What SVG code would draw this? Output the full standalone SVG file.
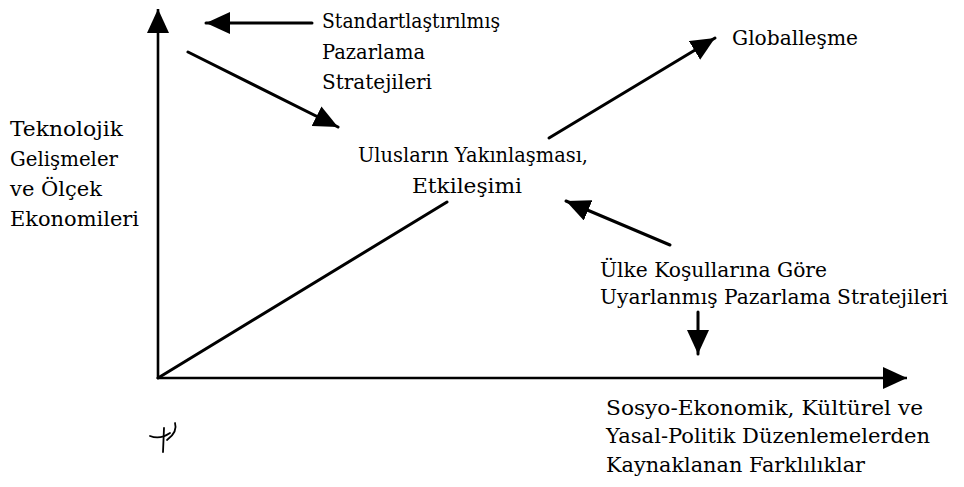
<svg xmlns="http://www.w3.org/2000/svg" width="964" height="487" viewBox="0 0 964 487">
  <style>
    text { font-family: 'DejaVu Serif', serif; font-size: 21px; fill: #000; }
    .ln { stroke: #000; stroke-width: 3; fill: none; stroke-linecap: round; }
    .ax { stroke: #000; stroke-width: 2.6; fill: none; }
  </style>
  <defs>
    <marker id="head" markerUnits="userSpaceOnUse" markerWidth="26" markerHeight="22" refX="24" refY="11" orient="auto">
      <path d="M0,0 L24,11 L0,22 Z" fill="#000"/>
    </marker>
  </defs>

  <!-- axes -->
  <g id="axes">
    <line class="ax" x1="158" y1="379" x2="158" y2="9" marker-end="url(#head)"/>
    <line class="ax" x1="157" y1="378" x2="907" y2="378" marker-end="url(#head)"/>
  </g>

  <!-- connectors -->
  <g id="connectors">
    <line class="ln" x1="312" y1="23" x2="206" y2="23" marker-end="url(#head)"/>
    <line class="ln" x1="188" y1="52" x2="338" y2="127" marker-end="url(#head)"/>
    <line class="ln" x1="158" y1="378" x2="447" y2="202"/>
    <line class="ln" x1="549" y1="138" x2="715" y2="38" marker-end="url(#head)"/>
    <line class="ln" x1="670" y1="245" x2="566" y2="201" marker-end="url(#head)"/>
    <line class="ln" x1="698" y1="312" x2="698" y2="354" marker-end="url(#head)"/>
  </g>

  <!-- labels -->
  <g id="standart">
    <text x="322" y="28" textLength="178" lengthAdjust="spacingAndGlyphs">Standartlaştırılmış</text>
    <text x="322" y="59" textLength="103" lengthAdjust="spacingAndGlyphs">Pazarlama</text>
    <text x="322" y="89" textLength="110" lengthAdjust="spacingAndGlyphs">Stratejileri</text>
  </g>
  <g id="global">
    <text x="732" y="45" textLength="126" lengthAdjust="spacingAndGlyphs">Globalleşme</text>
  </g>
  <g id="teknoloji">
    <text x="10" y="136" textLength="113" lengthAdjust="spacingAndGlyphs">Teknolojik</text>
    <text x="10" y="166" textLength="108" lengthAdjust="spacingAndGlyphs">Gelişmeler</text>
    <text x="10" y="196" textLength="92" lengthAdjust="spacingAndGlyphs">ve Ölçek</text>
    <text x="10" y="226" textLength="129" lengthAdjust="spacingAndGlyphs">Ekonomileri</text>
  </g>
  <g id="uluslar">
    <text x="358" y="162" textLength="230" lengthAdjust="spacingAndGlyphs">Ulusların Yakınlaşması,</text>
    <text x="412" y="193" textLength="110" lengthAdjust="spacingAndGlyphs">Etkileşimi</text>
  </g>
  <g id="ulke">
    <text x="600" y="277" textLength="227" lengthAdjust="spacingAndGlyphs">Ülke Koşullarına Göre</text>
    <text x="600" y="304" textLength="348" lengthAdjust="spacingAndGlyphs">Uyarlanmış Pazarlama Stratejileri</text>
  </g>
  <g id="farklilik">
    <text x="606" y="415" textLength="317" lengthAdjust="spacingAndGlyphs">Sosyo-Ekonomik, Kültürel ve</text>
    <text x="606" y="443" textLength="324" lengthAdjust="spacingAndGlyphs">Yasal-Politik Düzenlemelerden</text>
    <text x="606" y="472" textLength="259" lengthAdjust="spacingAndGlyphs">Kaynaklanan Farklılıklar</text>
  </g>

  <!-- handwritten mark below the origin -->
  <g id="mark" stroke="#000" stroke-width="1.8" fill="none" stroke-linecap="round">
    <path d="M150,436 Q160,440 170,433"/>
    <path d="M164,428 L163,452"/>
    <path d="M175,423 Q178,432 167,440"/>
  </g>
</svg>
